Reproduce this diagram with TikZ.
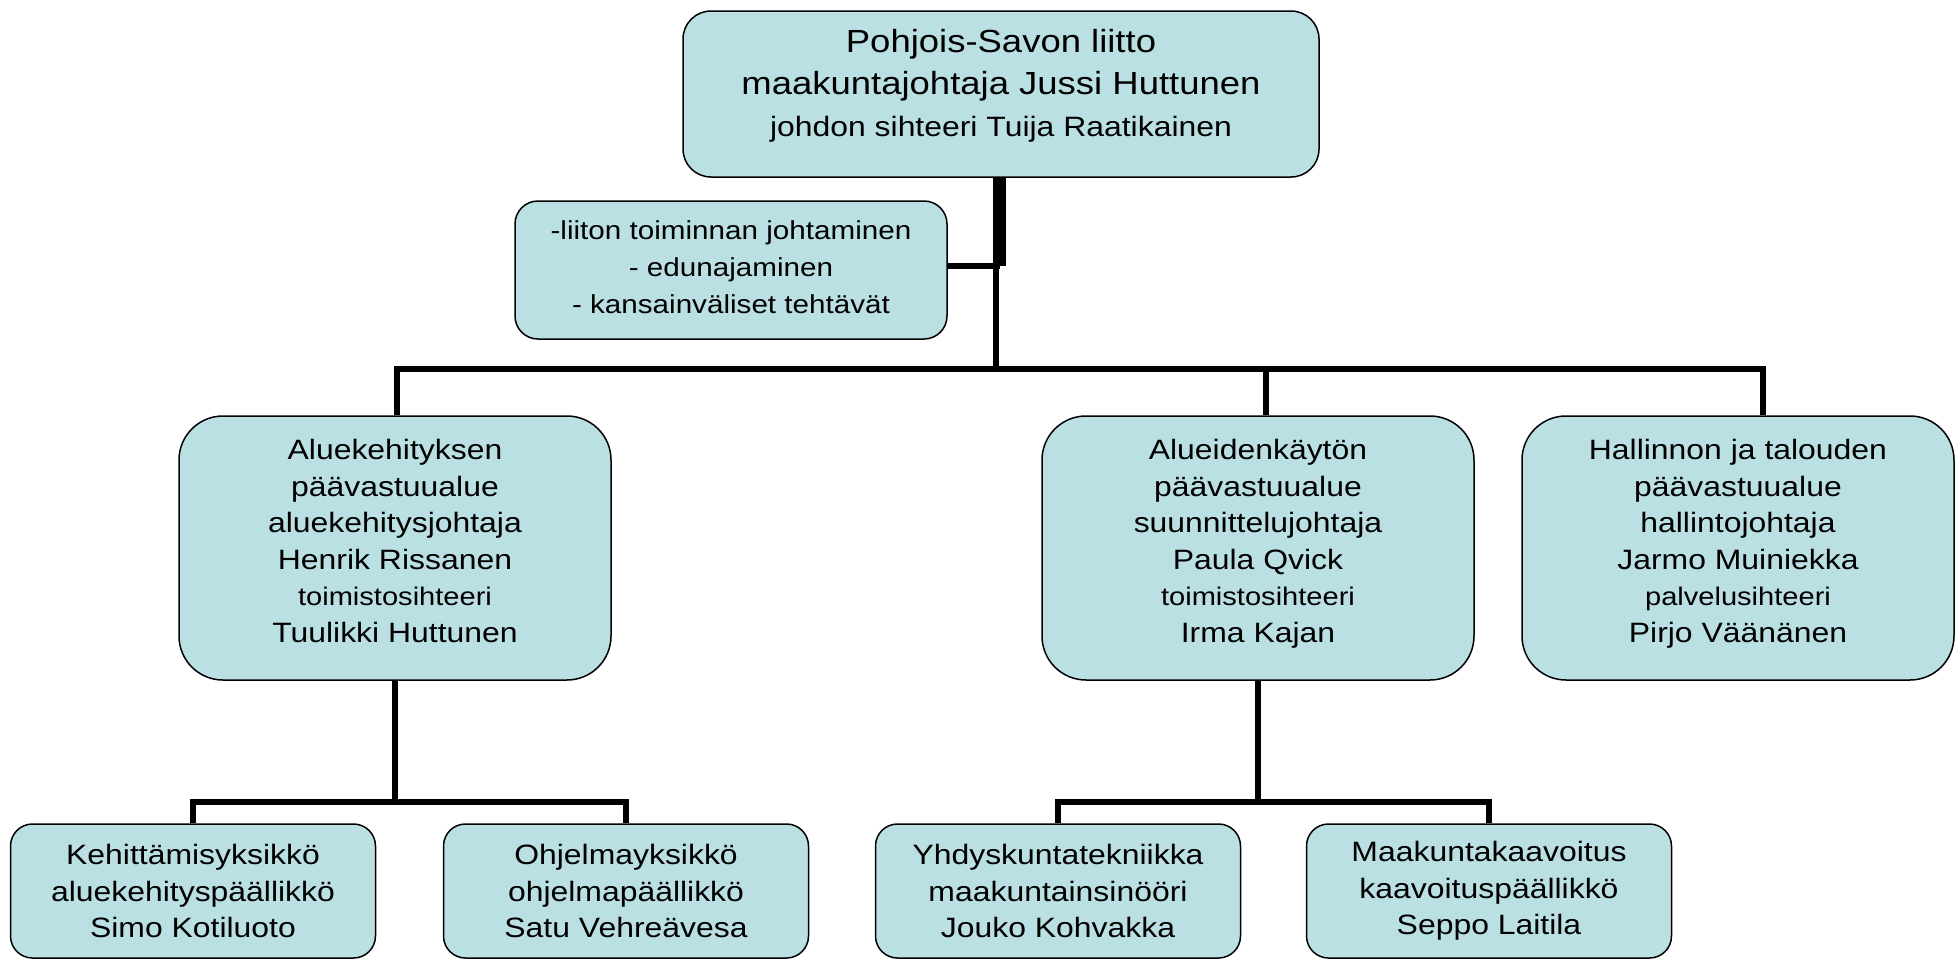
\documentclass[tikz,border=0pt]{standalone}
\usepackage{fontspec}
\setmainfont{Liberation Sans}[FakeStretch=1.14]
\usepackage{tikz}
\definecolor{vaalea}{RGB}{187,224,227}
\newcommand{\isofontti}{\fontsize{28}{36.5}\selectfont}
\newcommand{\pienifontti}{\fontsize{25.5}{33.5}\selectfont}
\tikzset{laatikko/.style={draw,line width=1.5pt,fill=vaalea,align=center,inner sep=0pt}}
\tikzset{iso/.style={laatikko,minimum width=432pt,minimum height=264pt,rounded corners=44pt,font=\isofontti,execute at end node={\rule[-14pt]{0pt}{14pt}}}}
\tikzset{pieni/.style={laatikko,minimum width=365pt,minimum height=134pt,rounded corners=22pt,font=\isofontti}}
\tikzset{viiva/.style={line width=6pt}}
\tikzset{paksu/.style={line width=10pt}}

\begin{document}
\begin{tikzpicture}[
                x=1pt, y=-1pt
            ]
                \useasboundingbox (0,0) rectangle (1955,959);

                \node[laatikko,minimum width=636pt,minimum height=166pt,rounded corners=28pt,font=\fontsize{32}{42}\selectfont] (paa) at (1001,94)
                    {Pohjois-Savon liitto\\maakuntajohtaja Jussi Huttunen\\\fontsize{28}{38}\selectfont johdon sihteeri Tuija Raatikainen\rule[-22pt]{0pt}{22pt}};
                \node[laatikko,minimum width=432pt,minimum height=138pt,rounded corners=23pt,font=\fontsize{26}{37}\selectfont] (sivu) at (731,270)
                    {-liiton toiminnan johtaminen\\- edunajaminen\\- kansainväliset tehtävät\rule[-5pt]{0pt}{5pt}};

                \node[iso] (ake) at (395,548) {Aluekehityksen\\päävastuualue\\aluekehitysjohtaja\\Henrik Rissanen\\\pienifontti toimistosihteeri\\Tuulikki Huttunen};
                \node[iso] (akt) at (1258,548) {Alueidenkäytön\\päävastuualue\\suunnittelujohtaja\\Paula Qvick\\\pienifontti toimistosihteeri\\Irma Kajan};
                \node[iso] (hat) at (1738,548) {Hallinnon ja talouden\\päävastuualue\\hallintojohtaja\\Jarmo Muiniekka\\\pienifontti palvelusihteeri\\Pirjo Väänänen};

                \node[pieni] (keh) at (193,891) {Kehittämisyksikkö\\aluekehityspäällikkö\\Simo Kotiluoto};
                \node[pieni] (ohj) at (626,891) {Ohjelmayksikkö\\ohjelmapäällikkö\\Satu Vehreävesa};
                \node[pieni] (yhd) at (1058,891) {Yhdyskuntatekniikka\\maakuntainsinööri\\Jouko Kohvakka};
                \node[pieni] (mkk) at (1489,891) {Maakuntakaavoitus\\kaavoituspäällikkö\\Seppo Laitila};

                \coordinate (liitos) at (1000,266);
                \coordinate (haara1) at (995,369);
                \coordinate (haara2) at (395,802);

                \draw[paksu] (paa.south) to [] (paa.south |- liitos);
                \draw[viiva] (sivu.east |- liitos) to [] (liitos);
                \draw[viiva] ([xshift=-5pt]paa.south) to [] ([xshift=-5pt]paa.south |- haara1);
                \draw[viiva] ([xshift=2pt]ake.north) |- (haara1) -| ([xshift=25pt]hat.north);
                \draw[viiva] ([xshift=8pt]akt.north) to [] ([xshift=8pt]akt.north |- haara1);

                \draw[viiva] (ake.south) to [] (ake.south |- haara2);
                \draw[viiva] (keh.north) |- (ake.south |- haara2) -| (ohj.north);
                \draw[viiva] (akt.south) to [] (akt.south |- haara2);
                \draw[viiva] (yhd.north) |- (akt.south |- haara2) -| (mkk.north);
            \end{tikzpicture}
\end{document}
